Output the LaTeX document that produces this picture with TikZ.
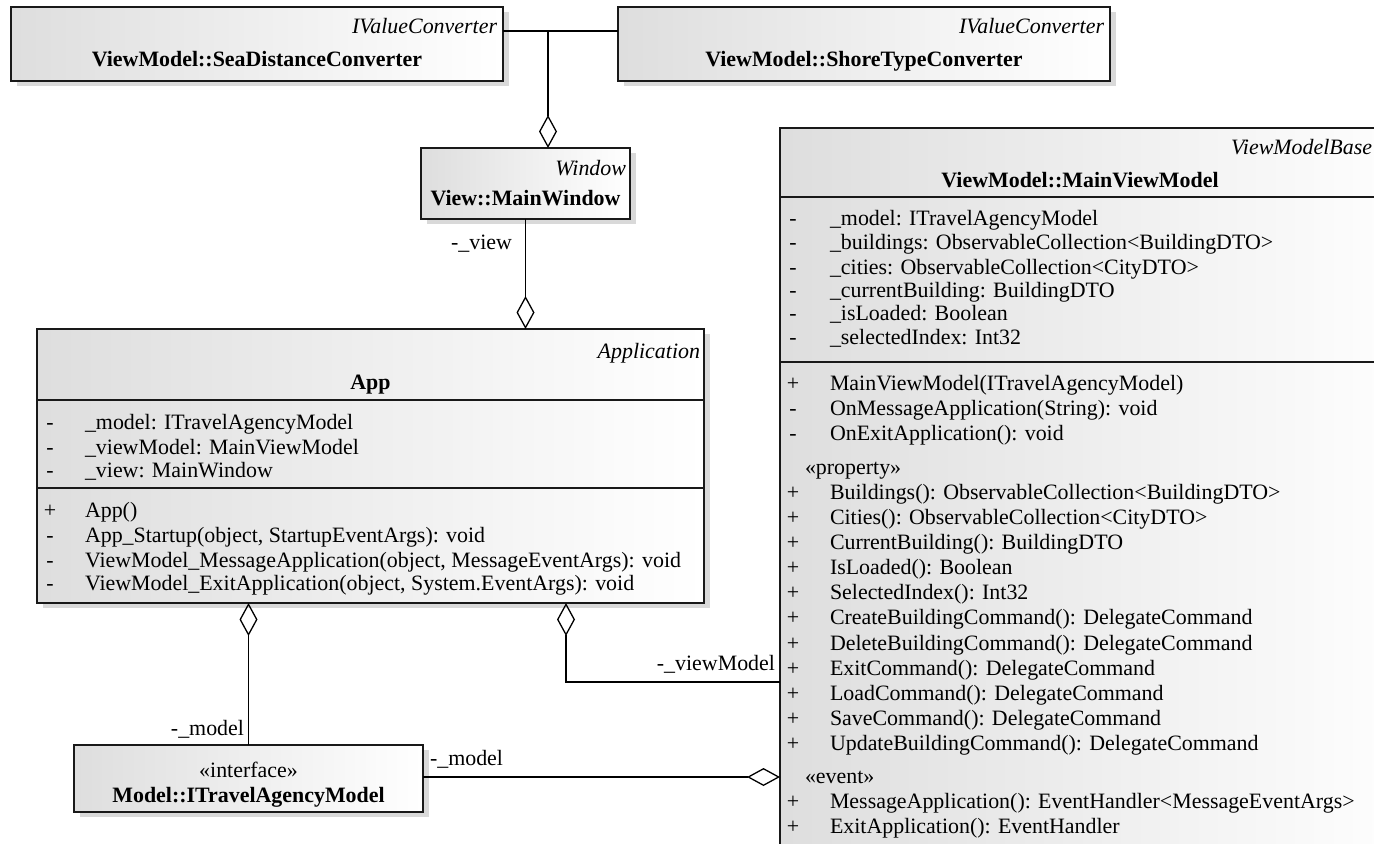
\documentclass[tikz,border=0pt]{standalone}
\usepackage{fontspec}
\setmainfont{Liberation Serif}
\usetikzlibrary{shadows,arrows.meta}
\tikzset{aggtip/.tip={Diamond[open, length=33bp, width=18bp, line width=1.3bp]}}
\begin{document}
\begin{tikzpicture}[x=1bp,y=-1bp,
  every node/.style={inner sep=0pt, outer sep=0pt, font=\fontsize{22}{24}\selectfont},
  classbox/.style={draw=black!90, line width=1.7bp, left color=black!13, right color=white,
    drop shadow={shadow xshift=6bp, shadow yshift=-5bp, fill=black!15, opacity=1},
    anchor=north west},
  divider/.style={draw=black!90, line width=1.7bp},
  conn/.style={draw=black, line width=1.3bp},
  tx/.style={anchor=base west},
  sg/.style={anchor=base},
  ster/.style={anchor=base east, font=\fontsize{22}{24}\selectfont\itshape},
  nm/.style={anchor=base, font=\fontsize{22}{24}\selectfont\bfseries},
  lbl/.style={anchor=base east},
]
\useasboundingbox (0,0) rectangle (1374,843);
\clip (0,0) rectangle (1374,843);
\fill[white] (0,0) rectangle (1374,843);

% ---------- boxes ----------
\node[classbox, minimum width=492bp, minimum height=74bp] (sea) at (11,7) {};
\node[classbox, minimum width=492bp, minimum height=74bp] (shore) at (618,7) {};
\node[classbox, minimum width=209bp, minimum height=71bp] (mw) at (421,148) {};
\node[classbox, minimum width=667bp, minimum height=274bp] (app) at (37,329) {};
\node[classbox, minimum width=349bp, minimum height=67bp] (iface) at (74,745) {};
\node[classbox, minimum width=640bp, minimum height=760bp] (mvm) at (780,128) {};

% ---------- dividers ----------
\draw[divider] (app.west |- 0,400) -- (app.east |- 0,400);
\draw[divider] (app.west |- 0,488) -- (app.east |- 0,488);
\draw[divider] (mvm.west |- 0,197) -- (mvm.east |- 0,197);
\draw[divider] (mvm.west |- 0,362) -- (mvm.east |- 0,362);

% ---------- headers ----------
\node[ster] (seaS) at (497,33) {IValueConverter};
\node[nm] (seaN) at (257,66) {ViewModel::SeaDistanceConverter};
\node[ster] (shoreS) at (1104,33) {IValueConverter};
\node[nm] (shoreN) at (864,66) {ViewModel::ShoreTypeConverter};
\node[ster] (mwS) at (626,175) {Window};
\node[nm] (mwN) at (525.5,205) {View::MainWindow};
\node[ster] (appS) at (700,358) {Application};
\node[nm] (appN) at (370.5,389) {App};
\node[ster] (mvmS) at (1372,154) {ViewModelBase};
\node[nm] (mvmN) at (1080,187) {ViewModel::MainViewModel};
\node[sg] (ifS) at (248.5,777) {«interface»};
\node[nm] (ifN) at (248.5,802) {Model::ITravelAgencyModel};

% ---------- App members ----------
\foreach \yy/\s/\t [count=\i] in {
  429/-/{\_model: ITravelAgencyModel},
  454/-/{\_viewModel: MainViewModel},
  477/-/{\_view: MainWindow},
  517/+/{App()},
  542/-/{App\_Startup(object, StartupEventArgs): void},
  567/-/{ViewModel\_MessageApplication(object, MessageEventArgs): void},
  590/-/{ViewModel\_ExitApplication(object, System.EventArgs): void}}{
  \node[sg] (appv\i) at (50,\yy) {\s};
  \node[tx] (appm\i) at (85,\yy) {\t};
}

% ---------- MainViewModel members ----------
\foreach \yy/\s/\t [count=\i] in {
  225/-/{\_model: ITravelAgencyModel},
  249/-/{\_buildings: ObservableCollection<BuildingDTO>},
  274/-/{\_cities: ObservableCollection<CityDTO>},
  297/-/{\_currentBuilding: BuildingDTO},
  320/-/{\_isLoaded: Boolean},
  344/-/{\_selectedIndex: Int32},
  390/+/{MainViewModel(ITravelAgencyModel)},
  415/-/{OnMessageApplication(String): void},
  440/-/{OnExitApplication(): void},
  499/+/{Buildings(): ObservableCollection<BuildingDTO>},
  524/+/{Cities(): ObservableCollection<CityDTO>},
  549/+/{CurrentBuilding(): BuildingDTO},
  574/+/{IsLoaded(): Boolean},
  599/+/{SelectedIndex(): Int32},
  624/+/{CreateBuildingCommand(): DelegateCommand},
  650/+/{DeleteBuildingCommand(): DelegateCommand},
  675/+/{ExitCommand(): DelegateCommand},
  700/+/{LoadCommand(): DelegateCommand},
  725/+/{SaveCommand(): DelegateCommand},
  750/+/{UpdateBuildingCommand(): DelegateCommand},
  808/+/{MessageApplication(): EventHandler<MessageEventArgs>},
  833/+/{ExitApplication(): EventHandler}}{
  \node[sg] (mvmv\i) at (793,\yy) {\s};
  \node[tx] (mvmm\i) at (830,\yy) {\t};
}
\node[tx] (prop) at (805,474) {«property»};
\node[tx] (evt) at (805,783) {«event»};

% ---------- connectors ----------
\coordinate (junc) at (548,31);
\draw[conn] (sea.east |- junc) -- (shore.west |- junc);
\draw[conn, -{aggtip}] (junc) -- (junc |- mw.north);
\draw[conn, -{aggtip}] (mw.south) -- (mw.south |- app.north);
\draw[conn, {aggtip}-] (iface.north |- app.south) -- (iface.north);
\coordinate (vmbend) at (566,682);
\draw[conn, {aggtip}-] (vmbend |- app.south) -- (vmbend) -- (mvm.west |- vmbend);
\draw[conn, -{aggtip}] (iface.east |- 0,777) -- (mvm.west |- 0,777);

% ---------- role labels ----------
\node[lbl] (lview) at (512,249) {-\_view};
\node[lbl] (lmodel1) at (244,735) {-\_model};
\node[lbl] (lvm) at (775,670) {-\_viewModel};
\node[tx] (lmodel2) at (430,765) {-\_model};
\end{tikzpicture}
\end{document}
